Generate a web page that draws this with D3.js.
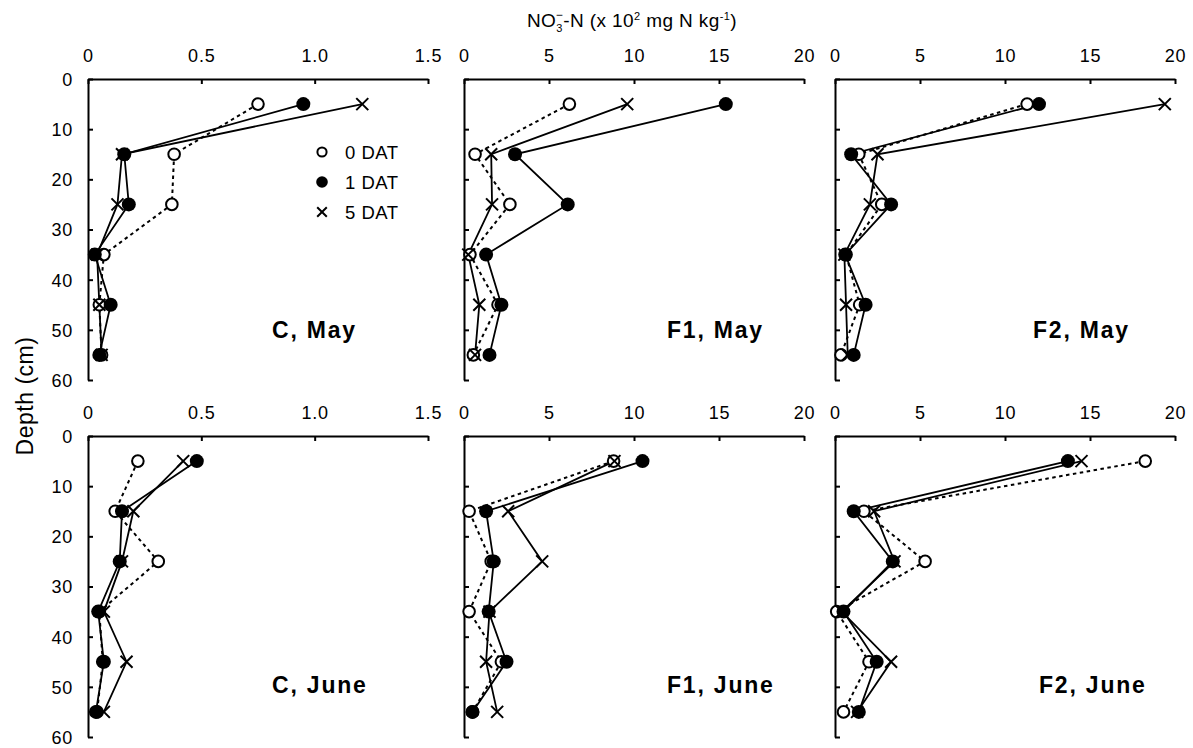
<!DOCTYPE html>
<html><head><meta charset="utf-8">
<script src="https://cdn.jsdelivr.net/npm/d3@7"></script>
<style>
html,body{margin:0;padding:0;background:#fff;}
svg{display:block;font-family:"Liberation Sans",Arial,sans-serif;}
</style></head>
<body>
<svg id="chart" width="1193" height="748"></svg>
<script>
// ---- data ----
const depths = [5, 15, 25, 35, 45, 55];
const seriesNames = ["0 DAT", "1 DAT", "5 DAT"];
const cTicks = [0, 0.5, 1.0, 1.5];
const fTicks = [0, 5, 10, 15, 20];
const depthTicks = [0, 10, 20, 30, 40, 50, 60];

const cMay0 = [0.75, 0.38, 0.37, 0.07, 0.05, 0.06];
const cMay1 = [0.95, 0.16, 0.18, 0.03, 0.10, 0.05];
const cMay5 = [1.21, 0.15, 0.13, 0.04, 0.05, 0.06];
const f1May0 = [6.2, 0.65, 2.7, 0.35, 2.0, 0.55];
const f1May1 = [15.4, 3.0, 6.1, 1.3, 2.2, 1.5];
const f1May5 = [9.6, 1.6, 1.65, 0.25, 0.9, 0.65];
const f2May0 = [11.3, 1.4, 2.75, 0.65, 1.45, 0.35];
const f2May1 = [12.0, 0.95, 3.3, 0.6, 1.8, 1.1];
const f2May5 = [19.4, 2.5, 2.05, 0.55, 0.65, 0.75];
const cJun0 = [0.22, 0.12, 0.31, 0.05, 0.065, 0.04];
const cJun1 = [0.48, 0.15, 0.14, 0.045, 0.07, 0.035];
const cJun5 = [0.42, 0.20, 0.15, 0.07, 0.17, 0.07];
const f1Jun0 = [8.8, 0.3, 1.6, 0.3, 2.2, 0.5];
const f1Jun1 = [10.5, 1.3, 1.75, 1.45, 2.5, 0.5];
const f1Jun5 = [8.85, 2.6, 4.6, 1.5, 1.3, 1.95];
const f2Jun0 = [18.25, 1.7, 5.3, 0.1, 2.0, 0.5];
const f2Jun1 = [13.7, 1.1, 3.4, 0.5, 2.45, 1.4];
const f2Jun5 = [14.5, 2.3, 3.5, 0.4, 3.3, 1.3];

const panelLabels = ["C, May", "F1, May", "F2, May", "C, June", "F1, June", "F2, June"];

// ---- layout ----
const colLeft = [88, 464, 835];
const rowTop = [79, 436];
const pw = 340, ph = 301;
const labelPos = [[272, 338], [667, 338], [1033, 338], [272, 693], [667, 693], [1039, 693]];

const panels = [
  {row: 0, col: 0, xmax: 1.5, ticks: cTicks, s: [cMay0, cMay1, cMay5]},
  {row: 0, col: 1, xmax: 20, ticks: fTicks, s: [f1May0, f1May1, f1May5]},
  {row: 0, col: 2, xmax: 20, ticks: fTicks, s: [f2May0, f2May1, f2May5]},
  {row: 1, col: 0, xmax: 1.5, ticks: cTicks, s: [cJun0, cJun1, cJun5]},
  {row: 1, col: 1, xmax: 20, ticks: fTicks, s: [f1Jun0, f1Jun1, f1Jun5]},
  {row: 1, col: 2, xmax: 20, ticks: fTicks, s: [f2Jun0, f2Jun1, f2Jun5]},
];

const svg = d3.select("#chart");

function drawMarker(g, type, x, y, big) {
  if (type === 0) {
    g.append("circle").attr("cx", x).attr("cy", y).attr("r", big ? 5.8 : 4.6)
      .attr("fill", "#fff").attr("stroke", "#000").attr("stroke-width", 2);
  } else if (type === 1) {
    g.append("circle").attr("cx", x).attr("cy", y).attr("r", big ? 7 : 5.8)
      .attr("fill", "#000");
  } else {
    const h = big ? 6 : 4.8;
    g.append("path").attr("d", `M${x-h},${y-h}L${x+h},${y+h}M${x-h},${y+h}L${x+h},${y-h}`)
      .attr("stroke", "#000").attr("stroke-width", 2).attr("fill", "none");
  }
}

panels.forEach((p, i) => {
  const left = colLeft[p.col], top = rowTop[p.row];
  const x = d3.scaleLinear().domain([0, p.xmax]).range([left, left + pw]);
  const y = d3.scaleLinear().domain([0, 60]).range([top, top + ph]);
  const fmt = p.xmax < 2 ? (d => d === 0 ? "0" : d3.format(".1f")(d)) : d3.format("d");

  const xa = svg.append("g").attr("transform", `translate(0,${top})`)
    .call(d3.axisTop(x).tickValues(p.ticks).tickFormat(fmt).tickSize(-5).tickSizeOuter(0).tickPadding(17));
  const ya = svg.append("g").attr("transform", `translate(${left},0)`)
    .call(d3.axisLeft(y).tickValues(depthTicks).tickFormat(p.col === 0 ? d3.format("d") : () => "")
      .tickSize(-5).tickSizeOuter(0).tickPadding(15));
  [xa, ya].forEach(a => {
    a.select(".domain").attr("stroke-width", 2).attr("stroke", "#000");
    a.selectAll(".tick line").attr("stroke-width", 2).attr("stroke", "#000");
    a.selectAll(".tick text").attr("font-size", 18).attr("fill", "#000")
      .attr("font-family", "'Liberation Sans',Arial,sans-serif").style("letter-spacing", "0.8px");
  });
  ya.selectAll(".tick text").attr("dy", "0.36em");

  const g = svg.append("g");
  const line = d3.line().x(d => x(d[0])).y(d => y(d[1]));
  p.s.forEach((vals, k) => {
    const pts = vals.map((v, j) => [v, depths[j]]);
    g.append("path").attr("d", line(pts)).attr("fill", "none").attr("stroke", "#000")
      .attr("stroke-width", k === 0 ? 2 : 1.8)
      .attr("stroke-dasharray", k === 0 ? "3.5,3.5" : null);
  });
  p.s.forEach((vals, k) => {
    vals.forEach((v, j) => drawMarker(g, k, x(v), y(depths[j]), true));
  });

  svg.append("text").attr("x", labelPos[i][0]).attr("y", labelPos[i][1])
    .attr("font-size", 23).attr("font-weight", "bold").style("letter-spacing", "1.8px")
    .text(panelLabels[i]);

  if (i === 0) {
    seriesNames.forEach((name, k) => {
      const ly = 152 + k * 30;
      drawMarker(svg, k, 322, ly, false);
      svg.append("text").attr("x", 345).attr("y", ly + 6.5).attr("font-size", 18.5)
        .style("letter-spacing", "0.5px").text(name);
    });
  }
});

// title
const t = svg.append("text").attr("x", 632).attr("y", 27).attr("text-anchor", "middle")
  .attr("font-size", 19).style("letter-spacing", "0.4px");
t.append("tspan").text("NO");
t.append("tspan").attr("font-size", 11).attr("dy", 5).text("3");
t.append("tspan").attr("font-size", 12).attr("dx", -7).attr("dy", -13).text("−");
t.append("tspan").attr("dy", 8).text("-N (x 10");
t.append("tspan").attr("font-size", 11).attr("dy", -7).text("2");
t.append("tspan").attr("dy", 7).text(" mg N kg");
t.append("tspan").attr("font-size", 11).attr("dy", -7).text("-1");
t.append("tspan").attr("dy", 7).text(")");

// y label
svg.append("text").attr("transform", "translate(33,396) rotate(-90)").attr("text-anchor", "middle")
  .attr("font-size", 23).style("letter-spacing", "0.5px").text("Depth (cm)");
</script>
</body></html>
